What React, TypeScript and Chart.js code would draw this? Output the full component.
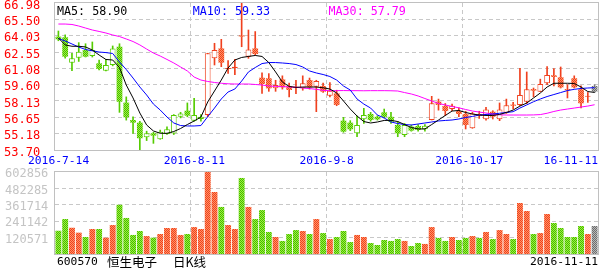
import React, { useEffect, useRef } from 'react';
import { Chart, registerables } from 'chart.js';

Chart.register(...registerables);

// ---------- data ----------
const dates = [
  '2016-7-14', '2016-7-15', '2016-7-18', '2016-7-19', '2016-7-20', '2016-7-21', '2016-7-22', '2016-7-25', '2016-7-26', '2016-7-27', '2016-7-28', '2016-7-29',
  '2016-8-1', '2016-8-2', '2016-8-3', '2016-8-4', '2016-8-5', '2016-8-8', '2016-8-9', '2016-8-10', '2016-8-11', '2016-8-12', '2016-8-15', '2016-8-16', '2016-8-17', '2016-8-18', '2016-8-19', '2016-8-22', '2016-8-23', '2016-8-24', '2016-8-25', '2016-8-26', '2016-8-29', '2016-8-30', '2016-8-31',
  '2016-9-1', '2016-9-2', '2016-9-5', '2016-9-6', '2016-9-7', '2016-9-8', '2016-9-9', '2016-9-12', '2016-9-13', '2016-9-14', '2016-9-19', '2016-9-20', '2016-9-21', '2016-9-22', '2016-9-23', '2016-9-26', '2016-9-27', '2016-9-28', '2016-9-29', '2016-9-30',
  '2016-10-10', '2016-10-11', '2016-10-12', '2016-10-13', '2016-10-14', '2016-10-17', '2016-10-18', '2016-10-19', '2016-10-20', '2016-10-21', '2016-10-24', '2016-10-25', '2016-10-26', '2016-10-27', '2016-10-28', '2016-10-31',
  '2016-11-1', '2016-11-2', '2016-11-3', '2016-11-4', '2016-11-7', '2016-11-8', '2016-11-9', '2016-11-10', '2016-11-11',
];

const opens = [
  63.94, 63.88, 61.59, 62.04, 62.73, 62.19, 61.53, 60.86, 61.38, 63.03,
  57.98, 56.41, 56.17, 54.85, 55.21, 54.67, 55.15, 55.18, 56.71, 57.25,
  56.35, 56.50, 56.86, 61.98, 62.88, 61.02, 61.10, 64.05, 62.13, 62.88,
  60.23, 60.18, 59.27, 60.08, 59.48, 59.40, 59.27, 60.02, 59.42, 59.48,
  58.60, 58.82, 56.35, 56.17, 55.21, 56.47, 56.95, 56.70, 57.10, 56.70,
  55.96, 55.06, 55.81, 55.87, 55.57, 56.41, 58.07, 57.68, 57.40, 57.22,
  56.95, 55.66, 56.95, 56.47, 57.16, 56.47, 57.07, 57.80, 57.77, 58.07,
  59.20, 58.97, 59.72, 60.45, 60.27, 59.20, 60.18, 59.18, 58.50, 59.48,
];
const highs = [
  64.45, 64.10, 62.44, 63.40, 63.30, 63.46, 61.83, 61.90, 63.10, 63.30,
  58.50, 56.70, 56.30, 55.40, 55.30, 55.50, 55.80, 56.90, 57.10, 57.95,
  58.37, 56.90, 62.44, 63.34, 63.70, 61.77, 61.90, 66.98, 64.54, 64.40,
  60.68, 60.60, 60.00, 60.40, 59.75, 60.00, 60.40, 60.20, 60.00, 59.75,
  59.80, 59.10, 56.65, 56.35, 56.77, 57.46, 57.10, 56.80, 57.40, 57.10,
  56.27, 56.10, 55.96, 56.00, 56.00, 58.55, 58.30, 57.90, 57.85, 57.50,
  57.20, 57.10, 57.20, 57.55, 57.25, 57.95, 58.30, 58.00, 61.08, 60.75,
  59.30, 60.10, 61.23, 61.05, 61.20, 59.60, 60.40, 59.50, 58.90, 59.60,
];
const lows = [
  63.57, 62.00, 60.86, 61.70, 62.10, 62.10, 60.93, 60.84, 61.30, 57.10,
  56.40, 55.20, 53.70, 54.55, 54.30, 54.67, 55.10, 55.10, 56.60, 56.70,
  56.30, 56.30, 56.70, 61.38, 61.23, 60.62, 60.50, 63.03, 61.98, 62.30,
  58.82, 59.00, 59.00, 59.20, 58.50, 58.80, 59.10, 59.20, 57.16, 58.90,
  58.50, 57.70, 55.30, 55.45, 54.90, 56.10, 56.30, 56.40, 56.60, 56.10,
  54.90, 54.90, 55.40, 55.40, 55.40, 56.41, 57.30, 56.80, 57.25, 56.70,
  55.60, 55.66, 56.55, 56.40, 56.50, 56.35, 57.00, 57.40, 57.70, 57.90,
  58.50, 58.97, 59.60, 59.50, 59.30, 58.40, 59.30, 57.50, 58.00, 58.90,
];
const closes = [
  63.70, 62.13, 61.98, 62.58, 62.13, 62.73, 61.02, 61.38, 62.88, 58.06,
  56.65, 56.17, 54.76, 55.21, 55.00, 55.35, 55.57, 56.86, 57.00, 56.80,
  56.86, 56.70, 62.44, 62.73, 61.59, 61.08, 61.23, 63.95, 62.79, 62.37,
  59.66, 59.27, 59.57, 59.36, 59.12, 59.30, 59.72, 59.36, 59.93, 58.97,
  59.06, 57.77, 55.36, 55.57, 55.96, 56.86, 56.41, 56.47, 56.70, 56.25,
  55.21, 55.96, 55.45, 55.51, 55.90, 57.92, 57.77, 57.22, 57.70, 56.95,
  55.96, 57.00, 56.80, 57.37, 56.71, 57.37, 57.74, 57.70, 58.67, 59.18,
  59.06, 59.66, 60.48, 60.30, 59.36, 59.10, 59.36, 57.92, 58.60, 58.97,
];
// 1 = rising day (red), -1 = falling day (green), 0 = current session (grey)
const dayTrend = [
  -1, -1, -1, -1, -1, -1, -1, -1, -1, -1, -1, -1, -1, -1, -1, -1, -1, -1, -1, -1, -1, -1,
  1, 1, 1, 1, 1, 1, 1, 1, 1, 1, 1, 1, 1, 1, 1, 1, 1, 1, 1, 1,
  -1, -1, -1, -1, -1, -1, -1, -1, -1, -1, -1, -1, -1,
  1, 1, 1, 1, 1, 1, 1, 1, 1, 1, 1, 1, 1, 1, 1, 1, 1, 1, 1, 1, 1, 1, 1, 1,
  0,
];
const volumes = [
  171000, 257000, 193000, 157000, 125000, 184000, 184000, 120000, 213000, 362000,
  265000, 140000, 169000, 132000, 120000, 147000, 191000, 191000, 140000, 147000,
  198000, 184000, 602856, 456000, 346000, 213000, 184000, 559000, 346000, 257000,
  323000, 162000, 125000, 96000, 147000, 176000, 169000, 147000, 257000, 154000,
  110000, 125000, 169000, 88000, 140000, 125000, 81000, 66000, 103000, 96000,
  110000, 96000, 59000, 81000, 74000, 198000, 118000, 96000, 125000, 103000,
  118000, 132000, 118000, 162000, 110000, 176000, 147000, 110000, 375000, 316000,
  147000, 154000, 294000, 228000, 191000, 125000, 125000, 206000, 147000, 206000,
];
const ma5 = [
  63.82, 63.19, 63.07, 63.07, 63.01, 62.73, 62.28, 61.88, 61.83, 61.15,
  59.57, 58.40, 57.04, 55.96, 55.42, 55.21, 55.21, 55.37, 55.64, 56.00,
  56.32, 56.68, 58.04, 59.03, 60.02, 61.11, 61.83, 62.06, 62.15, 62.24,
  62.15, 61.60, 60.75, 59.84, 59.44, 59.36, 59.39, 59.39, 59.39, 59.32,
  59.21, 58.85, 58.13, 57.40, 56.77, 56.27, 56.14, 56.23, 56.37, 56.38,
  56.27, 56.00, 55.73, 55.60, 55.60, 56.00, 56.41, 56.82, 57.22, 57.27,
  57.09, 56.95, 56.86, 56.82, 56.82, 56.91, 57.09, 57.31, 57.67, 57.94,
  58.40, 58.85, 59.39, 59.73, 59.73, 59.73, 59.71, 59.39, 58.98, 58.90,
];
const ma10 = [
  63.77, 63.55, 63.28, 63.00, 62.78, 62.66, 62.55, 62.50, 62.42, 61.65,
  60.97, 60.20, 59.39, 58.67, 57.85, 57.31, 56.68, 56.14, 55.91, 55.87,
  55.87, 55.91, 56.71, 57.49, 58.31, 58.94, 59.21, 59.93, 60.75, 61.15,
  61.51, 61.60, 61.60, 61.56, 61.51, 61.42, 61.20, 60.84, 60.66, 60.52,
  60.34, 60.02, 59.48, 59.12, 58.31, 57.85, 57.49, 56.86, 56.59, 56.23,
  56.09, 56.00, 55.96, 56.05, 56.14, 56.23, 56.32, 56.37, 56.41, 56.50,
  56.64, 56.73, 56.86, 56.91, 56.95, 57.02, 57.09, 57.16, 57.49, 57.77,
  58.06, 58.31, 58.53, 58.71, 58.89, 59.07, 59.18, 59.26, 59.30, 59.33,
];
const ma30 = [
  65.08, 65.08, 65.04, 64.90, 64.72, 64.54, 64.41, 64.27, 64.09, 63.95,
  63.73, 63.50, 63.19, 62.82, 62.46, 62.19, 61.88, 61.56, 61.20, 60.84,
  60.29, 60.02, 59.89, 59.80, 59.73, 59.68, 59.66, 59.66, 59.66, 59.62,
  59.57, 59.48, 59.45, 59.43, 59.39, 59.37, 59.30, 59.25, 59.18, 59.09,
  59.06, 59.06, 59.07, 59.06, 59.06, 59.05, 59.06, 59.06, 59.06, 59.05,
  59.03, 58.89, 58.76, 58.58, 58.35, 58.13, 57.90, 57.77, 57.63, 57.51,
  57.36, 57.22, 57.13, 57.04, 56.95, 56.88, 56.86, 56.86, 56.86, 56.86,
  56.87, 56.90, 57.02, 57.18, 57.31, 57.40, 57.49, 57.58, 57.67, 57.79,
];
const priceTicks = [53.70, 55.18, 56.65, 58.13, 59.60, 61.08, 62.55, 64.03, 65.50, 66.98];
const volumeTicks = [120571, 241142, 361714, 482285, 602856];
const axisLabelIndex = [0, 20, 40, 60, 79];
const stockCode = '600570';
const stockName = '恒生电子';
const periodName = '日K线';

// ---------- styles ----------
const MONO = '"DejaVu Sans Mono", monospace';
const CJK = '"Noto Sans CJK SC", sans-serif';
const GRID = '#c8c8c8';
const FRAME = '#c0c0c0';
const TONES: Record<string, { line: string; a: string; b: string }> = {
  '1': { line: '#f0401e', a: '#f0401e', b: '#ff9466' },
  '-1': { line: '#55cc00', a: '#44bb00', b: '#a0f040' },
  '0': { line: '#808080', a: '#6c6c6c', b: '#b8b8b8' },
};

function makePattern(a: string, b: string): CanvasPattern | string {
  const c = document.createElement('canvas');
  c.width = 2;
  c.height = 2;
  const g = c.getContext('2d');
  if (!g) return a;
  g.fillStyle = a;
  g.fillRect(0, 0, 2, 2);
  g.fillStyle = b;
  g.fillRect(1, 0, 1, 1);
  g.fillRect(0, 1, 1, 1);
  return g.createPattern(c, 'repeat') || a;
}

const framePlugin = {
  id: 'frame',
  afterDatasetsDraw(chart: any) {
    const { ctx, chartArea: a } = chart;
    ctx.save();
    ctx.strokeStyle = FRAME;
    ctx.lineWidth = 1;
    ctx.strokeRect(a.left - 0.5, a.top - 0.5, a.right - a.left + 1, a.bottom - a.top + 1);
    ctx.restore();
  },
};

function boundary(scale: any, idx: number) {
  const step = scale.getPixelForValue(1) - scale.getPixelForValue(0);
  return scale.getPixelForValue(idx) - step / 2;
}

const priceTextPlugin = {
  id: 'priceText',
  afterDraw(chart: any) {
    const { ctx, chartArea: a } = chart;
    const xs = chart.scales.x;
    ctx.save();
    ctx.textBaseline = 'middle';
    ctx.textAlign = 'left';
    ctx.font = `11.7px ${MONO}`;
    const heads: [string, number[], string, number][] = [
      ['MA5', ma5, '#000000', 0],
      ['MA10', ma10, '#0000ff', 20],
      ['MA30', ma30, '#ff00ff', 40],
    ];
    heads.forEach(([name, arr, color, idx]) => {
      ctx.fillStyle = color;
      ctx.fillText(`${name}: ${arr[arr.length - 1].toFixed(2)}`, boundary(xs, idx) + 2, a.top + 8.5);
    });
    ctx.font = `11.3px ${MONO}`;
    ctx.fillStyle = '#0000ff';
    axisLabelIndex.forEach((idx) => {
      const last = idx === dates.length - 1;
      if (last) {
        ctx.textAlign = 'right';
        ctx.fillText(dates[idx].slice(2), a.right, a.bottom + 11);
      } else {
        ctx.textAlign = 'left';
        ctx.fillText(dates[idx], boundary(xs, idx) - 27, a.bottom + 11);
      }
    });
    ctx.restore();
  },
};

const volumeTextPlugin = {
  id: 'volumeText',
  afterDraw(chart: any) {
    const { ctx, chartArea: a } = chart;
    const y = a.bottom + 8.5;
    ctx.save();
    ctx.textBaseline = 'middle';
    ctx.fillStyle = '#000000';
    ctx.textAlign = 'left';
    ctx.font = `11.3px ${MONO}`;
    ctx.fillText(stockCode, a.left + 2, y);
    ctx.font = `12.5px ${CJK}`;
    ctx.fillText(stockName, a.left + 52, y);
    ctx.fillText(periodName, a.left + 118, y);
    ctx.textAlign = 'right';
    ctx.font = `11.3px ${MONO}`;
    ctx.fillText(dates[dates.length - 1], a.right, y);
    ctx.restore();
  },
};

function xScale() {
  return {
    type: 'category' as const,
    offset: true,
    ticks: { display: false, autoSkip: false },
    grid: {
      offset: true,
      drawTicks: false,
      lineWidth: 1,
      color: (c: any) => (c.index > 0 && c.index < dates.length && c.index % 20 === 0 ? GRID : 'rgba(0,0,0,0)'),
    },
    border: { display: false, dash: [4, 3] },
  };
}

export default function App() {
  const priceRef = useRef<HTMLCanvasElement>(null);
  const volRef = useRef<HTMLCanvasElement>(null);

  useEffect(() => {
    if (!priceRef.current || !volRef.current) return;
    const fills: Record<string, CanvasPattern | string> = {};
    Object.keys(TONES).forEach((k) => {
      fills[k] = makePattern(TONES[k].a, TONES[k].b);
    });
    const n = dates.length;
    const idx = Array.from({ length: n }, (_, i) => i);
    const hollow = idx.map((i) => closes[i] > opens[i]);
    const toneLine = idx.map((i) => TONES[String(dayTrend[i])].line);

    const priceChart = new Chart(priceRef.current, {
      type: 'bar',
      data: {
        labels: dates,
        datasets: [
          { type: 'line', label: 'MA5', data: ma5, borderColor: '#000000', borderWidth: 1, pointRadius: 0, tension: 0, order: 0 } as any,
          { type: 'line', label: 'MA10', data: ma10, borderColor: '#0000ff', borderWidth: 1, pointRadius: 0, tension: 0, order: 0 } as any,
          { type: 'line', label: 'MA30', data: ma30, borderColor: '#ff00ff', borderWidth: 1, pointRadius: 0, tension: 0, order: 0 } as any,
          {
            type: 'bar',
            label: 'body',
            data: idx.map((i) => [opens[i], closes[i]]),
            backgroundColor: idx.map((i) => (hollow[i] ? '#ffffff' : fills[String(dayTrend[i])])),
            borderColor: toneLine,
            borderWidth: idx.map((i) => (hollow[i] ? 1 : 0)),
            borderSkipped: false,
            minBarLength: 1,
            grouped: false,
            barPercentage: 0.85,
            categoryPercentage: 1,
            order: 1,
          } as any,
          {
            type: 'bar',
            label: 'wick',
            data: idx.map((i) => [lows[i], highs[i]]),
            backgroundColor: toneLine,
            borderWidth: 0,
            barThickness: 1,
            grouped: false,
            minBarLength: 1,
            order: 2,
          } as any,
        ],
      },
      options: {
        responsive: false,
        animation: false,
        events: [],
        layout: { padding: { left: 4, right: 8, top: 3, bottom: 18 } },
        plugins: { legend: { display: false }, tooltip: { enabled: false } },
        scales: {
          x: xScale() as any,
          y: {
            type: 'linear',
            position: 'left',
            min: priceTicks[0],
            max: priceTicks[priceTicks.length - 1],
            afterBuildTicks: (s: any) => {
              s.ticks = priceTicks.map((v) => ({ value: v }));
            },
            afterFit: (s: any) => {
              s.width = 51;
              s.paddingTop = 0;
              s.paddingBottom = 0;
            },
            ticks: {
              color: '#ff0000',
              font: { family: 'DejaVu Sans Mono', size: 12 },
              padding: 0,
              crossAlign: 'far',
              labelOffset: 2.5,
              autoSkip: false,
              callback: (v: any) => Number(v).toFixed(2),
            },
            grid: {
              drawTicks: false,
              lineWidth: 1,
              color: (c: any) => (c.index === 0 || c.index === priceTicks.length - 1 ? 'rgba(0,0,0,0)' : GRID),
            },
            border: { display: false, dash: [4, 3] },
          } as any,
        },
      },
      plugins: [framePlugin, priceTextPlugin],
    });

    const volChart = new Chart(volRef.current, {
      type: 'bar',
      data: {
        labels: dates,
        datasets: [
          {
            label: 'volume',
            data: volumes,
            backgroundColor: idx.map((i) => fills[dayTrend[i] === 0 ? '0' : hollow[i] ? '1' : '-1']),
            borderWidth: 0,
            barPercentage: 0.87,
            categoryPercentage: 1,
          },
        ],
      },
      options: {
        responsive: false,
        animation: false,
        events: [],
        layout: { padding: { left: 5, right: 8, top: 4, bottom: 19 } },
        plugins: { legend: { display: false }, tooltip: { enabled: false } },
        scales: {
          x: xScale() as any,
          y: {
            type: 'linear',
            position: 'left',
            min: 0,
            max: volumeTicks[volumeTicks.length - 1],
            afterBuildTicks: (s: any) => {
              s.ticks = volumeTicks.map((v) => ({ value: v }));
            },
            afterFit: (s: any) => {
              s.width = 50;
              s.paddingTop = 0;
              s.paddingBottom = 0;
            },
            ticks: {
              color: '#c4c4c4',
              font: { family: 'DejaVu Sans Mono', size: 12 },
              padding: 0,
              crossAlign: 'far',
              labelOffset: 2,
              autoSkip: false,
              callback: (v: any) => String(v),
            },
            grid: {
              drawTicks: false,
              lineWidth: 1,
              color: (c: any) => (c.index === volumeTicks.length - 1 ? 'rgba(0,0,0,0)' : GRID),
            },
            border: { display: false, dash: [4, 3] },
          } as any,
        },
      },
      plugins: [framePlugin, volumeTextPlugin],
    });

    return () => {
      priceChart.destroy();
      volChart.destroy();
    };
  }, []);

  return (
    <div style={{ position: 'absolute', left: 0, top: 0, width: 606, height: 273, background: '#ffffff', overflow: 'hidden' }}>
      <canvas ref={priceRef} width={606} height={168} style={{ position: 'absolute', left: 0, top: 0, display: 'block' }} />
      <canvas ref={volRef} width={606} height={105} style={{ position: 'absolute', left: 0, top: 168, display: 'block' }} />
    </div>
  );
}
